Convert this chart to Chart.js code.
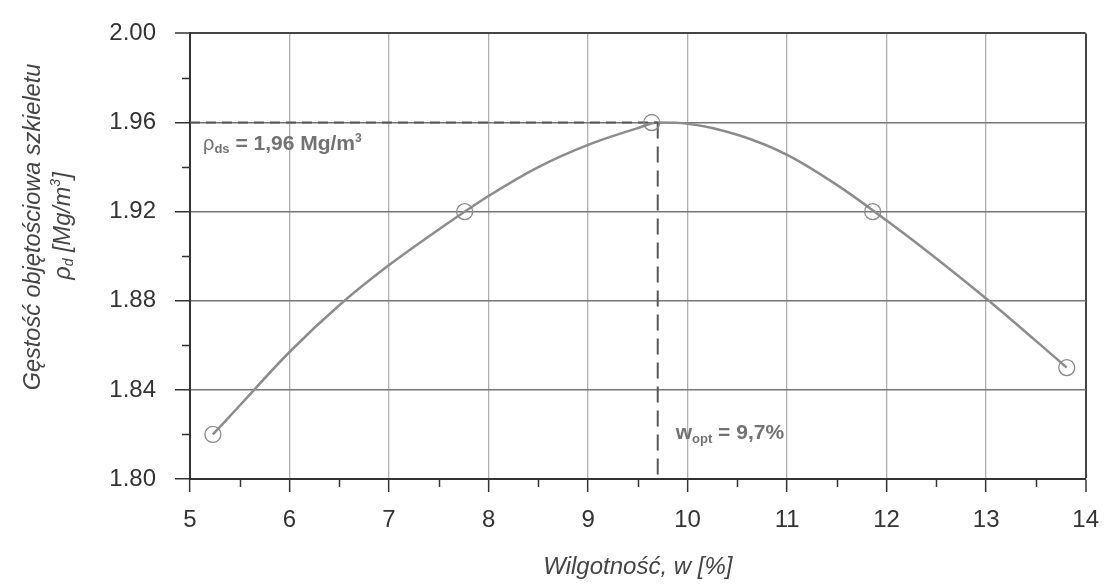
<!DOCTYPE html>
<html>
<head>
<meta charset="utf-8">
<script src="https://cdn.jsdelivr.net/npm/chart.js@4"></script>
<style>
  html, body { margin: 0; padding: 0; background: #fff; }
  #wrap { width: 1113px; height: 587px; position: relative; }
</style>
</head>
<body>
<div id="wrap"><canvas id="c" width="1113" height="587"></canvas></div>
<script>
// Measured points (moisture w [%], dry density rho_d [Mg/m3])
const pointW   = [5.23, 7.76, 9.64, 11.86, 13.81];
const pointRho = [1.82, 1.92, 1.96, 1.92, 1.85];

// Fitted compaction curve
const curveW   = [5.23, 5.5, 6.0, 6.5, 7.0, 7.5, 8.0, 8.5, 9.0, 9.5, 9.7, 10.0, 10.5, 11.0, 11.5, 12.0, 12.5, 13.0, 13.5, 13.81];
const curveRho = [1.820, 1.833, 1.857, 1.878, 1.896, 1.912, 1.927, 1.940, 1.950, 1.9575, 1.960, 1.9595, 1.9545, 1.9455, 1.932, 1.916, 1.899, 1.881, 1.862, 1.850];

// Optimum
const wOpt = 9.7;
const rhoDs = 1.96;

// Axis ranges / ticks
const xMin = 5, xMax = 14, xStep = 0.5;
const yMin = 1.80, yMax = 2.00, yStep = 0.02;

const FONT = "'Liberation Sans', Arial, sans-serif";

function drawRich(ctx, parts, x, y, align) {
  let total = 0;
  parts.forEach(p => { ctx.font = p.f; p.w = ctx.measureText(p.t).width; total += p.w; });
  let cx = align === 'center' ? x - total / 2 : x;
  parts.forEach(p => {
    ctx.font = p.f;
    ctx.fillText(p.t, cx, y + (p.dy || 0));
    cx += p.w;
  });
}

const isInt = v => Math.abs(v - Math.round(v)) < 1e-6;

const textPlugin = {
  id: 'texts',
  afterDraw(chart) {
    const ctx = chart.ctx;
    const xs = chart.scales.x, ys = chart.scales.y;
    ctx.save();
    // minor ticks
    ctx.strokeStyle = '#333';
    ctx.lineWidth = 1.5;
    ctx.beginPath();
    xs.ticks.forEach(t => {
      if (!isInt(t.value)) {
        const px = Math.round(xs.getPixelForValue(t.value)) + 0.5;
        ctx.moveTo(px, ys.bottom); ctx.lineTo(px, ys.bottom + 8);
      }
    });
    ys.ticks.forEach((t, i) => {
      if (i % 2 === 1) {
        const py = Math.round(ys.getPixelForValue(t.value)) + 0.5;
        ctx.moveTo(xs.left - 8, py); ctx.lineTo(xs.left, py);
      }
    });
    ctx.stroke();

    ctx.textBaseline = 'middle';
    ctx.textAlign = 'left';
    // Y axis title (two lines, rotated)
    ctx.fillStyle = '#444';
    ctx.save();
    ctx.translate(33, 227);
    ctx.rotate(-Math.PI / 2);
    drawRich(ctx, [{t: 'Gęstość objętościowa szkieletu', f: `italic 23.5px ${FONT}`}], 0, 0, 'center');
    ctx.restore();
    ctx.save();
    ctx.translate(63, 226);
    ctx.rotate(-Math.PI / 2);
    drawRich(ctx, [
      {t: 'ρ', f: `italic 23.5px ${FONT}`},
      {t: 'd', f: `italic 14px ${FONT}`, dy: 6},
      {t: ' [Mg/m', f: `italic 23.5px ${FONT}`},
      {t: '3', f: `italic 14px ${FONT}`, dy: -7},
      {t: ']', f: `italic 23.5px ${FONT}`}
    ], 0, 0, 'center');
    ctx.restore();
    // X axis title
    drawRich(ctx, [{t: 'Wilgotność, w [%]', f: `italic 24px ${FONT}`}], (xs.left + xs.right) / 2, 567, 'center');

    // Annotations
    ctx.fillStyle = '#727272';
    drawRich(ctx, [
      {t: 'ρ', f: `20px ${FONT}`},
      {t: 'ds', f: `bold 13px ${FONT}`, dy: 5},
      {t: ' = 1,96 Mg/m', f: `bold 21px ${FONT}`},
      {t: '3', f: `bold 12px ${FONT}`, dy: -6}
    ], xs.getPixelForValue(xMin) + 13, ys.getPixelForValue(rhoDs) + 22, 'left');
    drawRich(ctx, [
      {t: 'w', f: `bold 21px ${FONT}`},
      {t: 'opt', f: `bold 13px ${FONT}`, dy: 6},
      {t: ' = 9,7%', f: `bold 21px ${FONT}`}
    ], xs.getPixelForValue(wOpt) + 18, ys.getPixelForValue(1.8205), 'left');
    ctx.restore();
  }
};

new Chart(document.getElementById('c'), {
  type: 'scatter',
  data: {
    datasets: [
      {
        label: 'curve',
        data: curveW.map((w, i) => ({x: w, y: curveRho[i]})),
        showLine: true,
        borderColor: '#8c8c8c',
        borderWidth: 2.5,
        pointRadius: 0,
        cubicInterpolationMode: 'monotone',
        order: 2
      },
      {
        label: 'hline',
        data: [{x: xMin, y: rhoDs}, {x: wOpt, y: rhoDs}],
        showLine: true,
        borderColor: '#555',
        borderWidth: 2,
        borderDash: [10, 6],
        pointRadius: 0,
        order: 1
      },
      {
        label: 'vline',
        data: [{x: wOpt, y: rhoDs}, {x: wOpt, y: yMin}],
        showLine: true,
        borderColor: '#555',
        borderWidth: 2,
        borderDash: [16, 8],
        pointRadius: 0,
        order: 1
      },
      {
        label: 'points',
        data: pointW.map((w, i) => ({x: w, y: pointRho[i]})),
        showLine: false,
        pointStyle: 'circle',
        pointRadius: 8,
        pointBorderWidth: 1.3,
        pointBorderColor: '#888',
        pointBackgroundColor: 'rgba(255,255,255,0)',
        order: 0
      }
    ]
  },
  options: {
    responsive: false,
    animation: false,
    events: [],
    layout: { padding: { top: 29, right: 18, left: 0, bottom: 0 } },
    plugins: { legend: { display: false }, tooltip: { enabled: false } },
    scales: {
      x: {
        type: 'linear',
        min: xMin, max: xMax,
        afterFit(s) { s.height = 108; },
        border: { display: true, color: '#333', width: 2 },
        grid: {
          color: c => (c.tick && isInt(c.tick.value)) ? (Math.abs(c.tick.value - xMax) < 1e-6 ? '#444' : '#b0b0b0') : 'rgba(0,0,0,0)',
          lineWidth: c => (c.tick && Math.abs(c.tick.value - xMax) < 1e-6) ? 2 : 1.3,
          tickColor: c => (c.tick && isInt(c.tick.value)) ? '#333' : 'rgba(0,0,0,0)',
          tickLength: 13,
          tickWidth: 1.5
        },
        ticks: {
          stepSize: xStep,
          padding: 14,
          color: '#333',
          font: { family: FONT, size: 24 },
          maxRotation: 0,
          autoSkip: false,
          callback: v => isInt(v) ? String(Math.round(v)) : ''
        }
      },
      y: {
        type: 'linear',
        min: yMin, max: yMax,
        afterFit(s) { s.width = 190; },
        border: { display: true, color: '#333', width: 2 },
        grid: {
          color: c => (c.index % 2 === 0) ? (c.index === 10 ? '#444' : '#777') : 'rgba(0,0,0,0)',
          lineWidth: c => c.index === 10 ? 2 : 1.5,
          tickColor: c => (c.index % 2 === 0) ? '#333' : 'rgba(0,0,0,0)',
          tickLength: 15,
          tickWidth: 1.5
        },
        ticks: {
          stepSize: yStep,
          padding: 19,
          color: '#333',
          font: { family: FONT, size: 24 },
          autoSkip: false,
          callback: (v, i) => (i % 2 === 0) ? v.toFixed(2) : ''
        }
      }
    }
  },
  plugins: [textPlugin]
});
</script>
</body>
</html>
